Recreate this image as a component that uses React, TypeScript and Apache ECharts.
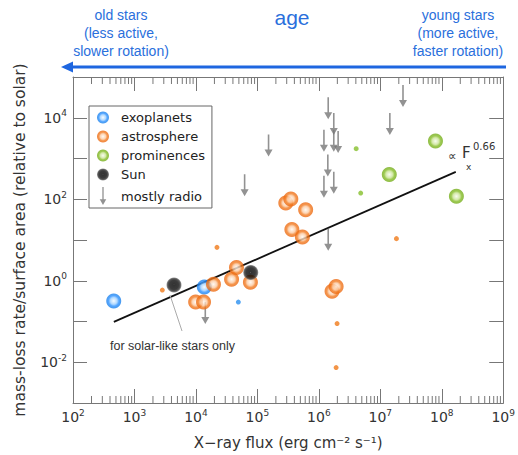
import React, { useEffect, useRef } from "react";
import * as echarts from "echarts";

// ---- data ----
const exoplanets = [[460, 0.32], [1.37e4, 0.7]];
const exoplanetsSmall = [[4.9e4, 0.3]];
const sun = [[4.4e3, 0.79], [7.8e4, 1.6]];
const astrosphere = [
  [1.93e4, 0.82], [9.9e3, 0.3], [1.33e4, 0.3], [3.8e4, 1.09], [4.57e4, 2.1],
  [7.7e4, 0.92], [2.9e5, 81], [3.5e5, 102], [6.1e5, 55], [3.64e5, 18.2],
  [5.4e5, 11.9], [1.64e6, 0.55], [1.91e6, 0.72],
];
const astrosphereSmall = [[2.84e3, 0.59], [2.2e4, 6.6], [1.83e7, 10.8], [1.98e6, 0.089], [1.91e6, 0.0074]];
const prominences = [[7.9e7, 2670], [1.4e7, 405], [1.73e8, 118]];
const prominencesSmall = [[4.05e6, 1740], [4.8e6, 142]];
const mostlyRadio = [
  [1.42e6, 3.2e4], [1.75e6, 1.31e4], [1.21e6, 5.1e3], [1.75e6, 5.1e3], [2.06e6, 4.7e3],
  [1.52e5, 3.9e3], [1.43e7, 1.31e4], [2.34e7, 6.4e4], [1.4e6, 1.26e3], [1.21e6, 375],
  [1.75e6, 470], [6.2e4, 413], [1.42e6, 18.9], [1.42e4, 0.3],
];
const fitLine = [[462, 0.0977], [1.69e8, 470]];

const xMin = 1e2;
const xMax = 1e9;
const yMin = 1e-3;
const yMax = 1e5;
const xMinorDecades = [2, 3, 4, 5, 6, 7, 8];
const minorMultipliers = [2, 3, 4, 5, 6, 7, 8, 9];
const legendNames = ["exoplanets", "astrosphere", "prominences", "Sun", "mostly radio"];

const FONT = "DejaVu Sans";
const BLUE_TXT = "#2a6fdc";
const ARROW_PATH = "path://M3.2,0 L4.8,0 L4.8,15 L8,15 L4,22 L0,15 L3.2,15 Z";

function radial(stops: [number, string][]) {
  return new echarts.graphic.RadialGradient(0.5, 0.5, 0.5, stops.map(([offset, color]) => ({ offset, color })));
}

const blueFill = radial([[0, "#f4faff"], [0.45, "#9fd0ff"], [0.7, "#2a90ff"], [1, "#1a7fe8"]]);
const orangeFill = radial([[0, "#fff8f0"], [0.45, "#fcc9a0"], [0.7, "#f27c22"], [1, "#ec6810"]]);
const greenFill = radial([[0, "#f6fbec"], [0.45, "#c9e394"], [0.7, "#84bc26"], [1, "#74ac1a"]]);
const sunFill = radial([[0, "#444"], [0.1, "#000"], [0.6, "#0a0a0a"], [0.82, "#2a2a2a"], [1, "#808080"]]);

function supLabel(value: number) {
  const e = Math.round(Math.log10(value));
  return `{b|10}{s|${e}}`;
}

const richSup = {
  b: { fontSize: 14, fontFamily: FONT, color: "#333", lineHeight: 18 },
  s: { fontSize: 9, fontFamily: FONT, color: "#333", lineHeight: 10, verticalAlign: "top" },
};

export default function App() {
  const ref = useRef<HTMLDivElement>(null);
  useEffect(() => {
    if (!ref.current) return;
    const chart = echarts.init(ref.current, undefined, { renderer: "svg" });
    const axisLineStyle = { color: "#777", width: 1 };
    const bigCircle = 15;
    const option: any = {
      animation: false,
      textStyle: { fontFamily: FONT },
      grid: { left: 73, right: 10, top: 77, bottom: 49, containLabel: false },
      legend: {
        data: legendNames,
        orient: "vertical",
        left: 89,
        top: 106,
        itemWidth: 12,
        itemHeight: 18,
        itemGap: 6,
        padding: [5, 7, 3, 8],
        borderColor: "#666",
        borderWidth: 1,
        backgroundColor: "#fff",
        selectedMode: false,
        textStyle: { fontSize: 13, color: "#222", fontFamily: FONT, padding: [0, 0, 0, 7] },
      },
      xAxis: [
        {
          type: "log",
          logBase: 10,
          min: xMin,
          max: xMax,
          name: "X\u2212ray flux (erg cm\u207B\u00B2 s\u207B\u00B9)",
          nameLocation: "middle",
          nameGap: 32,
          nameTextStyle: { fontSize: 15, color: "#333", fontFamily: FONT },
          axisLine: { show: true, lineStyle: axisLineStyle },
          axisTick: { show: true, inside: true, length: 14, lineStyle: axisLineStyle },
          splitLine: { show: false },
          axisLabel: { margin: 5, formatter: supLabel, rich: richSup },
        },
        {
          type: "log",
          logBase: 10,
          min: xMin,
          max: xMax,
          position: "top",
          axisLine: { show: true, lineStyle: axisLineStyle },
          axisTick: { show: true, inside: true, length: 14, lineStyle: axisLineStyle },
          splitLine: { show: false },
          axisLabel: { show: false },
        },
      ],
      yAxis: [
        {
          type: "log",
          logBase: 10,
          min: yMin,
          max: yMax,
          name: "mass-loss rate/surface area (relative to solar)",
          nameLocation: "middle",
          nameGap: 45,
          nameTextStyle: { fontSize: 15.5, color: "#333", fontFamily: FONT },
          axisLine: { show: true, lineStyle: axisLineStyle },
          axisTick: { show: true, inside: true, length: 14, lineStyle: axisLineStyle },
          splitLine: { show: false },
          axisLabel: {
            margin: 6,
            formatter: (v: number) => {
              const e = Math.round(Math.log10(v));
              if (e % 2 !== 0 || e === -4) return "";
              return supLabel(v);
            },
            rich: richSup,
          },
        },
        {
          type: "log",
          logBase: 10,
          min: yMin,
          max: yMax,
          position: "right",
          axisLine: { show: true, lineStyle: axisLineStyle },
          axisTick: { show: true, inside: true, length: 14, lineStyle: axisLineStyle },
          splitLine: { show: false },
          axisLabel: { show: false },
        },
      ],
      series: [
        {
          type: "custom",
          name: "minor ticks",
          silent: true,
          clip: false,
          data: [[1e3, 1]],
          renderItem: (params: any, api: any) => {
            if (params.dataIndex !== 0) return null;
            const children: any[] = [];
            xMinorDecades.forEach((d) => {
              minorMultipliers.forEach((m) => {
                const v = m * Math.pow(10, d);
                const pb = api.coord([v, yMin]);
                const pt = api.coord([v, yMax]);
                children.push({ type: "line", shape: { x1: pb[0], y1: pb[1], x2: pb[0], y2: pb[1] - 7 }, style: { stroke: "#777", lineWidth: 1 } });
                children.push({ type: "line", shape: { x1: pt[0], y1: pt[1], x2: pt[0], y2: pt[1] + 7 }, style: { stroke: "#777", lineWidth: 1 } });
              });
            });
            return { type: "group", children };
          },
        },
        {
          type: "line",
          name: "fit",
          data: fitLine,
          showSymbol: false,
          symbol: "none",
          lineStyle: { color: "#111", width: 1.8 },
          silent: true,
          z: 1,
        },
        {
          type: "scatter",
          name: "mostly radio",
          data: mostlyRadio,
          symbol: ARROW_PATH,
          symbolSize: [8, 22],
          symbolOffset: [0, 11],
          itemStyle: { color: "#777" },
          z: 2,
        },
        {
          type: "scatter",
          name: "exoplanets",
          data: exoplanets,
          symbolSize: bigCircle,
          itemStyle: { color: blueFill },
          z: 3,
        },
        {
          type: "scatter",
          name: "astrosphere",
          data: astrosphere,
          symbolSize: bigCircle,
          itemStyle: { color: orangeFill },
          z: 3,
        },
        {
          type: "scatter",
          name: "prominences",
          data: prominences,
          symbolSize: bigCircle,
          itemStyle: { color: greenFill },
          z: 3,
        },
        {
          type: "scatter",
          name: "Sun",
          data: sun,
          symbolSize: bigCircle,
          itemStyle: { color: sunFill },
          z: 3,
        },
        {
          type: "scatter",
          name: "exoplanets",
          data: exoplanetsSmall,
          symbolSize: 5,
          itemStyle: { color: "#2a90f0" },
          z: 3,
        },
        {
          type: "scatter",
          name: "astrosphere",
          data: astrosphereSmall,
          symbolSize: 5,
          itemStyle: { color: "#f07a1a" },
          z: 3,
        },
        {
          type: "scatter",
          name: "prominences",
          data: prominencesSmall,
          symbolSize: 5,
          itemStyle: { color: "#86bf2c" },
          z: 3,
        },
      ],
      graphic: [
        {
          type: "text",
          style: { text: "age", x: 292, y: 17, align: "center", verticalAlign: "middle", fontSize: 21, fontFamily: "Liberation Sans", fill: BLUE_TXT },
        },
        {
          type: "text",
          style: {
            text: "old stars\n(less active,\nslower rotation)",
            x: 121, y: 32.5, align: "center", verticalAlign: "middle", lineHeight: 18,
            fontSize: 14, fontFamily: "Liberation Sans", fill: BLUE_TXT,
          },
        },
        {
          type: "text",
          style: {
            text: "young stars\n(more active,\nfaster rotation)",
            x: 458, y: 32.5, align: "center", verticalAlign: "middle", lineHeight: 18,
            fontSize: 14, fontFamily: "Liberation Sans", fill: BLUE_TXT,
          },
        },
        {
          type: "line",
          shape: { x1: 506, y1: 67, x2: 70, y2: 67 },
          style: { stroke: "#1e66e0", lineWidth: 3 },
        },
        {
          type: "polygon",
          shape: { points: [[61, 67], [73, 61.5], [73, 72.5]] },
          style: { fill: "#1e66e0" },
        },
        {
          type: "line",
          shape: { x1: 170, y1: 295, x2: 182, y2: 331 },
          style: { stroke: "#aaa", lineWidth: 1 },
          z: 10,
        },
        {
          type: "text",
          style: { text: "for solar-like stars only", x: 110, y: 346, verticalAlign: "middle", fontSize: 12.5, fontFamily: "Liberation Sans", fill: "#333" },
          z: 10,
        },
        {
          type: "text",
          style: { text: "\u221D", x: 448, y: 156, verticalAlign: "middle", fontSize: 12, fontFamily: FONT, fill: "#333" },
          z: 10,
        },
        {
          type: "text",
          style: { text: "F", x: 462, y: 153, verticalAlign: "middle", fontSize: 15, fontFamily: FONT, fill: "#333" },
          z: 10,
        },
        {
          type: "text",
          style: { text: "0.66", x: 473, y: 146, verticalAlign: "middle", fontSize: 10, fontFamily: FONT, fill: "#333" },
          z: 10,
        },
        {
          type: "text",
          style: { text: "x", x: 466, y: 167, verticalAlign: "middle", fontSize: 9, fontFamily: FONT, fill: "#333" },
          z: 10,
        },
      ],
    };
    chart.setOption(option);
    return () => chart.dispose();
  }, []);
  return <div ref={ref} style={{ position: "absolute", left: 0, top: 0, width: 518, height: 455 }} />;
}
